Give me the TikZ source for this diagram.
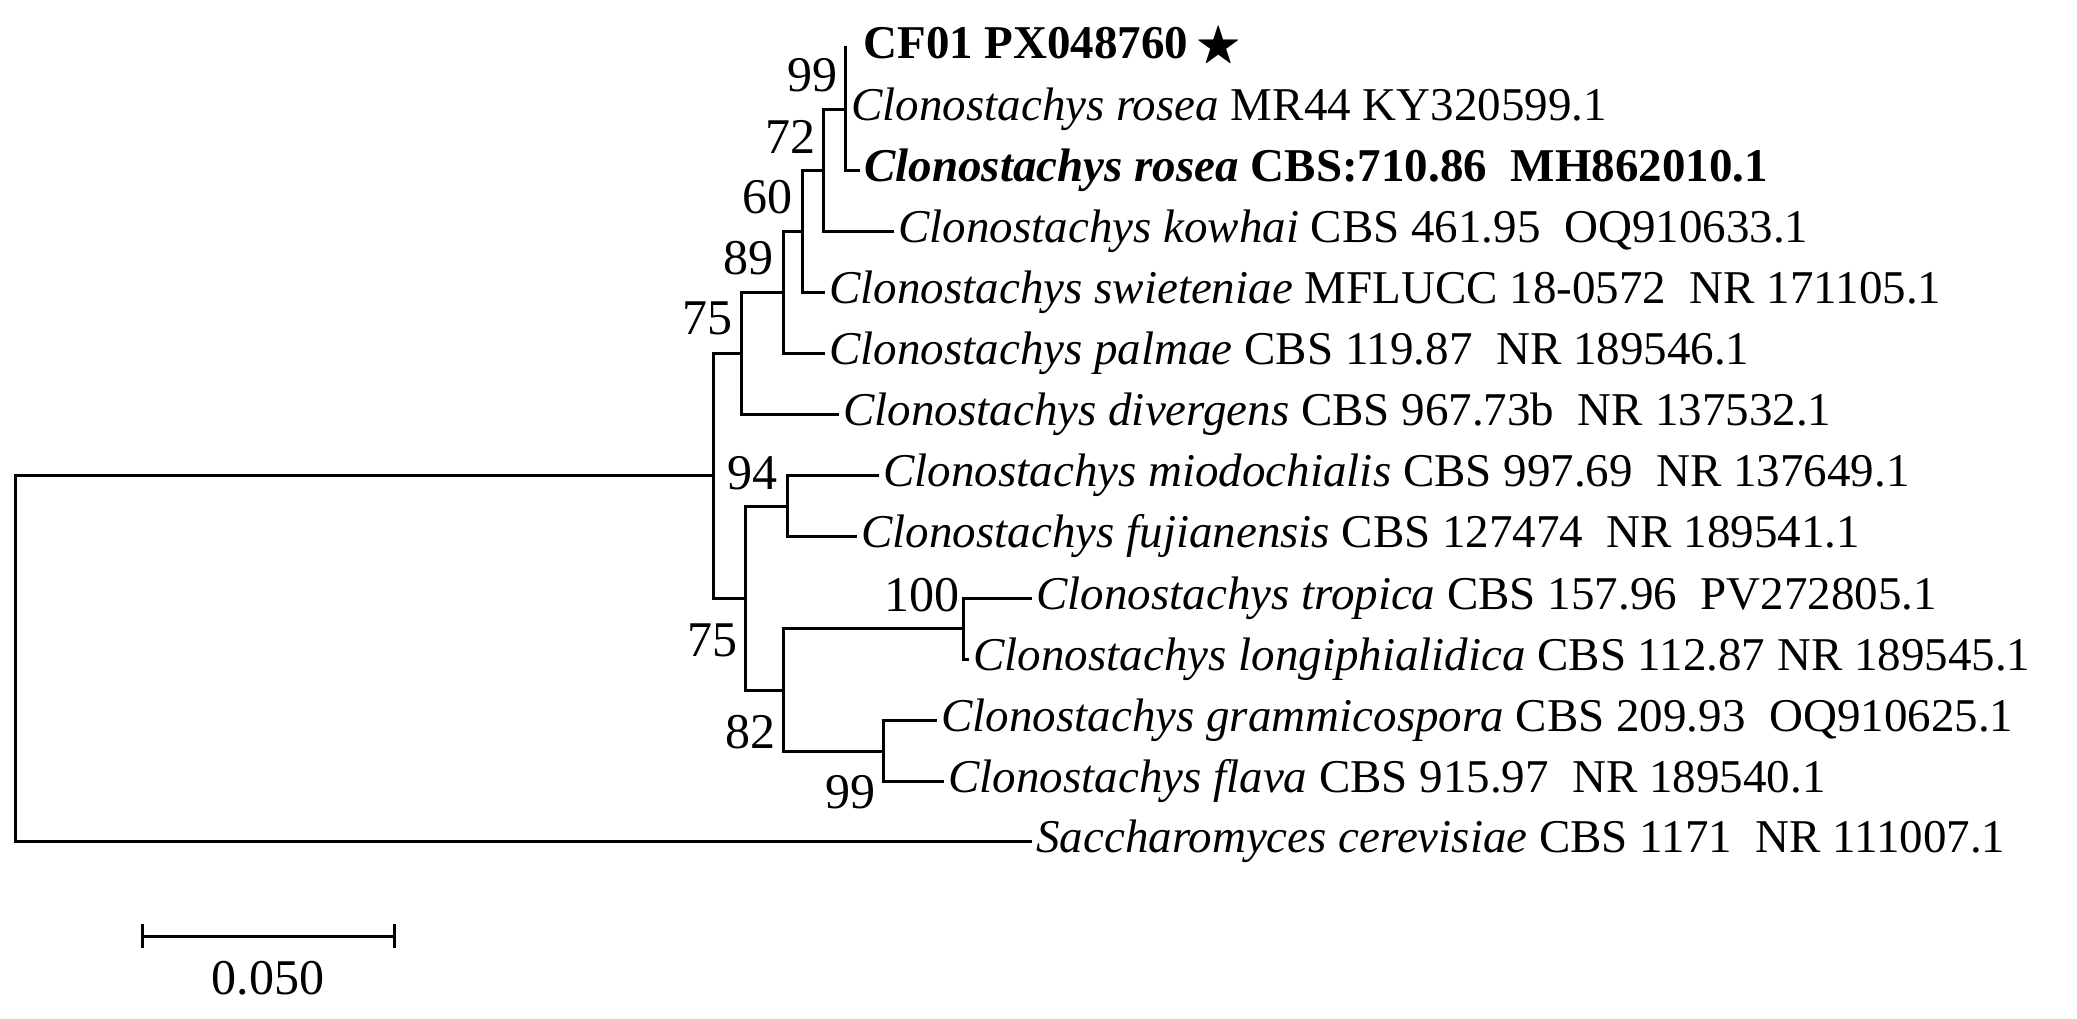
\documentclass[tikz,border=0pt]{standalone}
\usepackage{amssymb}
\usepackage{fontspec}
\setmainfont{Liberation Serif}
\begin{document}
\begin{tikzpicture}[x=0.5pt,y=-0.5pt,
  br/.style={line width=1.5pt,line cap=rect},
  lf/.style={anchor=west,inner sep=0pt,xshift=3pt,font=\fontsize{23.5}{25}\selectfont},
  bs/.style={inner sep=0pt,font=\fontsize{25}{25}\selectfont}]
\useasboundingbox (0,0) rectangle (2077,1018);
% leaf end coordinates
\coordinate (l1) at (845,47);
\coordinate (l2) at (845,109);
\coordinate (l3) at (858,170);
\coordinate (l4) at (892,231);
\coordinate (l5) at (823,292);
\coordinate (l6) at (823,353);
\coordinate (l7) at (837,414);
\coordinate (l8) at (877,475);
\coordinate (l9) at (855,536);
\coordinate (l10) at (1030,598);
\coordinate (l11) at (967,659);
\coordinate (l12) at (935,720);
\coordinate (l13) at (942,781);
\coordinate (l14) at (1030,841);
% internal nodes
\coordinate (n99) at (845,109);
\coordinate (n72) at (823,170);
\coordinate (n60) at (802,231);
\coordinate (n89) at (783,292);
\coordinate (n75) at (741,353);
\coordinate (nin) at (713,475);
\coordinate (n94) at (787,506);
\coordinate (n75b) at (745,598);
\coordinate (n100) at (963,628);
\coordinate (n82) at (783,690);
\coordinate (n99b) at (883,751);
\coordinate (root) at (15,658);
% branches
\draw[br] (l1) -- (n99 |- l3) -- (l3);
\draw[br] (n72 |- n99) -- (n99);
\draw[br] (n72 |- n99) -- (n72 |- l4) -- (l4);
\draw[br] (n60 |- n72) -- (n72);
\draw[br] (n60 |- n72) -- (n60 |- l5) -- (l5);
\draw[br] (n89 |- n60) -- (n60);
\draw[br] (n89 |- n60) -- (n89 |- l6) -- (l6);
\draw[br] (n75 |- n89) -- (n89);
\draw[br] (n75 |- n89) -- (n75 |- l7) -- (l7);
\draw[br] (nin |- n75) -- (n75);
\draw[br] (nin |- n75) -- (nin |- n75b) -- (n75b);
\draw[br] (n94 |- l8) -- (l8);
\draw[br] (n94 |- l8) -- (n94 |- l9) -- (l9);
\draw[br] (n75b |- n94) -- (n94);
\draw[br] (n75b |- n94) -- (n75b |- n82) -- (n82);
\draw[br] (n100 |- l10) -- (l10);
\draw[br] (n100 |- l10) -- (n100 |- l11) -- (l11);
\draw[br] (n82 |- n100) -- (n100);
\draw[br] (n82 |- n100) -- (n82 |- n99b) -- (n99b);
\draw[br] (n99b |- l12) -- (l12);
\draw[br] (n99b |- l12) -- (n99b |- l13) -- (l13);
\draw[br] (root |- nin) -- (nin);
\draw[br] (root |- nin) -- (root |- l14) -- (l14);
% leaf labels
\node[lf,font=\fontsize{23.5}{25}\selectfont\bfseries,xshift=6pt] (t1) at (l1) {CF01 PX048760\,$\bigstar$};
\node[lf] (t2) at (l2) {\textit{Clonostachys rosea} MR44 KY320599.1};
\node[lf,font=\fontsize{23.5}{25}\selectfont\bfseries] (t3) at (l3) {\textit{Clonostachys rosea} CBS:710.86\ \ MH862010.1};
\node[lf] (t4) at (l4) {\textit{Clonostachys kowhai} CBS 461.95\ \ OQ910633.1};
\node[lf] (t5) at (l5) {\textit{Clonostachys swieteniae} MFLUCC 18-0572\ \ NR 171105.1};
\node[lf] (t6) at (l6) {\textit{Clonostachys palmae} CBS 119.87\ \ NR 189546.1};
\node[lf] (t7) at (l7) {\textit{Clonostachys divergens} CBS 967.73b\ \ NR 137532.1};
\node[lf] (t8) at (l8) {\textit{Clonostachys miodochialis} CBS 997.69\ \ NR 137649.1};
\node[lf] (t9) at (l9) {\textit{Clonostachys fujianensis} CBS 127474\ \ NR 189541.1};
\node[lf] (t10) at (l10) {\textit{Clonostachys tropica} CBS 157.96\ \ PV272805.1};
\node[lf] (t11) at (l11) {\textit{Clonostachys longiphialidica} CBS 112.87 NR 189545.1};
\node[lf] (t12) at (l12) {\textit{Clonostachys grammicospora} CBS 209.93\ \ OQ910625.1};
\node[lf] (t13) at (l13) {\textit{Clonostachys flava} CBS 915.97\ \ NR 189540.1};
\node[lf] (t14) at (l14) {\textit{Saccharomyces cerevisiae} CBS 1171\ \ NR 111007.1};
% bootstrap
\node[bs] (b1) at (812,75) {99};
\node[bs] (b2) at (790,137) {72};
\node[bs] (b3) at (767,197) {60};
\node[bs] (b4) at (748,258) {89};
\node[bs] (b5) at (707,318) {75};
\node[bs] (b6) at (752,473) {94};
\node[bs] (b7) at (712,640) {75};
\node[bs] (b8) at (922,595) {100};
\node[bs] (b9) at (750,732) {82};
\node[bs] (b10) at (850,792) {99};
% scale bar
\coordinate (s1) at (142,936);
\coordinate (s2) at (394,936);
\draw[br,line cap=butt] (s1) -- (s2);
\draw[br,line cap=butt] ([yshift=6pt]s1) -- ([yshift=-6pt]s1);
\draw[br,line cap=butt] ([yshift=6pt]s2) -- ([yshift=-6pt]s2);
\node[bs] (sl) at (268,978) {0.050};
\end{tikzpicture}
\end{document}
